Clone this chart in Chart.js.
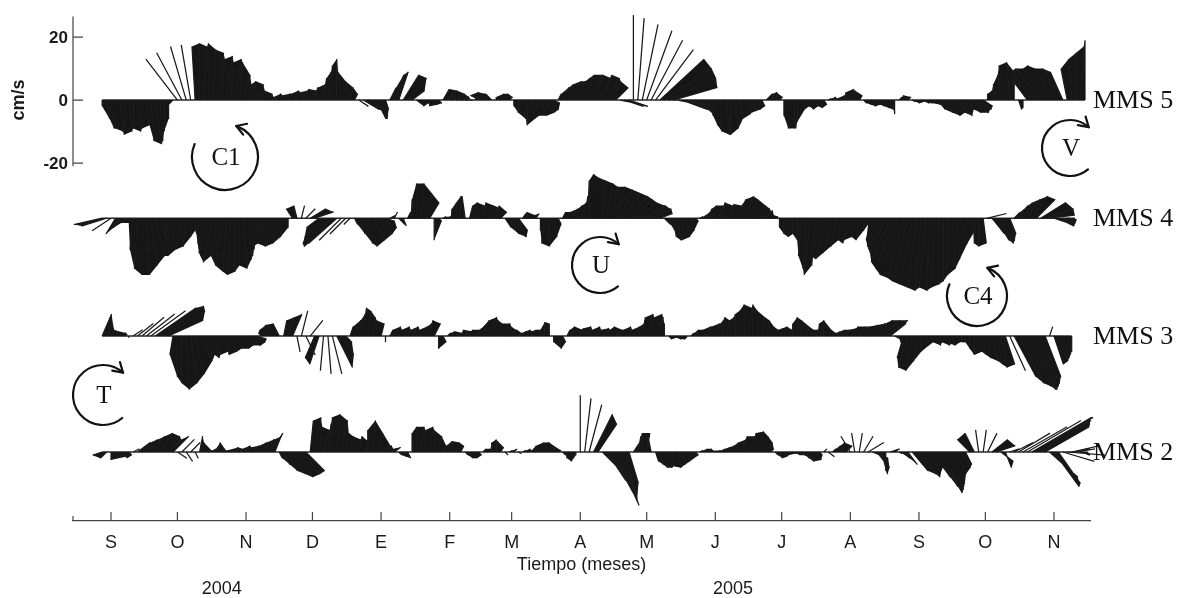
<!DOCTYPE html>
<html>
<head>
<meta charset="utf-8">
<script src="https://cdn.jsdelivr.net/npm/chart.js@4.4.1/dist/chart.umd.min.js"></script>
<style>
  html, body { margin: 0; padding: 0; background: #ffffff; }
  #wrap { width: 1178px; height: 598px; position: relative; }
</style>
</head>
<body>
<div id="wrap"><canvas id="c" width="1178" height="598"></canvas></div>
<script>
// Time axis: days counted from 15 Sep 2004; one tick per month (mid-month)
const monthDays   = [0, 30, 61, 91, 122, 153, 181, 212, 242, 273, 303, 334, 365, 395, 426];
const monthLabels = ['S', 'O', 'N', 'D', 'E', 'F', 'M', 'A', 'M', 'J', 'J', 'A', 'S', 'O', 'N'];
const yearLabels  = ['2004', '2005'];
const yearDays    = [50, 281];
const yTicks      = [20, 0, -20];

// Current vectors (cm/s), one sample every 2 days starting at day -4
const SAMPLE_START = -4;
const SAMPLE_STEP  = 2;

const U_MMS5 = [
  0,1,1,0,1,0,1,0,1,0,
  1,1,2,1,0,0,-2,-10,-8,-5,
  -3,-1,0,1,0,1,2,1,2,1,
  2,1,2,1,1,2,1,2,1,2,
  1,2,1,2,1,2,1,2,1,2,
  1,1,0,0,-1,0,1,1,3,5,
  6,5,3,2,1,2,3,3,5,6,
  4,2,1,1,0,1,1,2,3,4,
  4,3,1,1,0,-1,-4,-3,-2,0,
  1,1,1,0,0,1,0,1,1,2,
  3,3,2,1,2,2,3,3,3,3,
  4,3,4,3,4,3,4,5,6,6,
  0,2,5,8,10,12,14,15,15,14,
  10,8,9,6,4,2,1,1,0,0,
  0,1,0,1,1,2,1,1,1,1,
  2,2,1,1,0,0,1,0,1,1,
  1,1,1,1,1,1,0,1,0,1,
  0,1,1,1,1,1,1,1,1,0,
  1,0,1,1,1,1,1,1,2,2,
  3,4,4,5,4,5,6,5,4,3,
  0,0,-1,-1,-2,-1,0,1,0,-6,
  -7,-8,-8,-7,-7,-6,-5,-4,-2,-1,
  0,1,0
];
const V_MMS5 = [
  -2,-6,-9,-9,-10,-11,-10,-9,-10,-9,
  -8,-13,-14,-13,-10,-6,-2,13,15,17,
  17.5,17,18,17,18,16,15,13,14,12,
  13,12,8,5,6,5,3,2,1,2,
  1.5,2,2,3,2.5,3,3.5,3,4,5,
  7,9,11,13,9,6,4,2,-2,-3,
  -4,-5,-6,-6,-3,4,8,9,8,7,
  3,-1.5,-2,-1,-2,-1.5,-1,3.5,3,2,
  1,0.5,0,0,0,0.5,1.5,2.5,2,1,
  2,2,1,-2,-4,-6,-8,-6,-5,-5,
  -4,-3,-1,2,4,5,6,6,7,8,
  8,8,7,8,7,6,4,-1,-2,-2,
  27,26,24,22,19,16,13,10,7,4,
  -2,-3,-3,-3,-2,-2,-3,-4,-5,-8,
  -10,-11,-11,-9,-6,-4.5,-4,-3.5,-3,-2,
  2,2.5,2,1,-5,-9,-9,-7,-3,-2,
  -3,-2,-2.5,-1.5,0.5,1,0.5,1.5,2.5,3.5,
  3,1.5,-1,-1.5,-2,-1.5,-2,-2.5,-3,-4.5,
  1,1.5,1,-0.5,-1,-0.5,-1,-1,-1.5,-3,
  -4,-5,-4,-5,-3,-4,-4,-3,-3,-2,
  2,3,5,8,11,12,9,-3,-2.5,8,
  9,9,10,10,11,10,10,9,10,13,
  15,17,19
];

const U_MMS4 = [
  -9,-8,-6,-3,-2,-1,0,-1,-1,0,
  1,2,3,3,1,-2,-3,-3,-2,-1,
  0,0,-1,-2,-3,-3,-2,-2,-1,-1,
  0,0,1,1,0,-1,-3,-4,-4,-3,
  -2,-1,0,-2,-1,1,3,5,6,-4,
  -6,-8,-9,-9,-7,-5,-2,1,2,3,
  3,4,5,5,3,2,1,2,1,1,
  0,0,1,2,3,0,1,1,1,0,
  0,0,-1,1,1,2,1,2,2,1,
  2,2,3,4,3,1,0,1,1,0,
  -1,0,1,1,1,1,2,2,2,1,
  0,0,0,1,2,2,3,4,5,6,
  6,6,7,6,6,5,4,2,2,1,
  1,0,1,1,1,1,2,1,1,2,
  1,2,1,2,2,3,3,4,4,3,
  2,1,1,0,0,0,0,0,-1,-1,
  -2,-1,-3,-4,-4,-3,-2,-1,-1,-2,
  -1,-1,0,0,-2,-3,-4,-5,-6,-6,
  -6,-5,-5,-4,-3,-2,-2,-1,-1,0,
  0,0,1,1,2,3,1,0,0,1,
  6,4,4,4,3,2,2,3,3,4,
  5,6,8,9,8,6,5,4,3,1
];
const V_MMS4 = [
  -2,-2.5,-4,-5,-3,-1.5,-1.5,-10,-16,-18,
  -18,-15,-12,-10,-9,-11,-12,-12,-10,-9,
  -6,-4,-5,-8,-11,-14,-12,-15,-17,-18,
  -17,-15,-16,-13,-12,-10,-10,-9,-8,-9,
  -8,-6,-3,3,4,4,3,3,2,-3,
  -6,-8,-9,-8,-7,-5,-2,-2,-5,-8,
  -9,-7,-5,-3,-1,1,2,-2,-2.5,2,
  6,11,11,8,5,-7,-1,0.5,0.5,3,
  5,7,7,4,5,4,5,4,3.5,4,
  2,-3,-5,-6,-4,1.5,2,1,1.5,-4,
  -8,-9,-6,-2,2,2,3,4,5,7,
  12,14,13,12,11,10,10,9,8,7,
  6,5,4,4,3,3,1.5,-2,-4,-6,
  -7,-7,-6,-4,-1,0.5,2,3,4,4,
  5,4,4.5,4,6,7,6,4,3,2,
  2.5,1,0.5,-3,-5,-6,-5,-7,-12,-16,
  -18,-15,-10,-12,-13,-11,-9,-7,-8,-7,
  -6,-7,-4,-2,-7,-9,-10,-11,-14,-16,
  -18,-19,-20,-21,-22,-23,-22,-23,-22,-21,
  -20,-18,-16,-13,-8,-4,-3,-8,-9,-8,
  1.5,-5,-7,-8,-7,-5,2,4,5,6,
  7,6,5,3,1,-2,-2.5,-1.5,-0.5,0
];

const U_MMS3 = [
  3,2,1,1,2,1,0,3,5,7,
  9,11,13,14,13,11,-1,0,0,1,
  2,3,4,3,2,2,1,2,1,2,
  2,3,3,4,4,3,-1,-2,-2,-3,
  -2,1,2,3,1,2,3,4,-3,-3,
  -1,1,3,5,4,2,1,2,2,1,
  1,1,0,1,0,1,2,1,2,1,
  2,1,2,2,1,2,0,1,1,1,
  2,1,2,1,2,1,2,3,2,2,
  3,2,2,1,1,1,1,0,0,0,
  0,0,0,1,1,1,1,2,1,2,
  1,2,1,2,1,1,2,1,2,1,
  2,2,1,2,1,2,1,0,1,1,
  1,1,0,1,1,1,2,1,2,1,
  1,1,1,0,0,0,1,0,0,1,
  1,1,1,1,1,1,0,0,0,1,
  1,1,0,0,1,1,1,1,1,2,
  1,2,2,3,4,5,6,7,5,2,
  1,-2,-3,-2,-1,0,1,1,2,1,
  2,1,1,1,1,0,0,0,1,1,
  1,2,2,2,3,5,7,8,9,9,
  8,7,6,5,1,3,3,2,1,0
];
const V_MMS3 = [
  7,4,2,1.5,1,0.5,-0.5,2,4,6,
  7,8,9,9.5,8,5,-6,-13,-15,-17,
  -15,-12,-8,-7,-6,-7,-6,-5,-6,-5,
  -4,-4,-3,-3,-2,-1,1,2,3,3.5,
  4,5,6,7,-5,8,-6,5,-7,-9,
  -11,-12,-12,-10,-6,-2,3,5,7,9,
  8,6,5,4,-2,2,3,2,3,2,
  3,2,3,4,5,4,-4,-2,1,1.5,
  1,2,1.5,2,2,2.5,5,6,5,4,
  4,3,2,2,1,1.5,2,1.5,2,2,
  4.5,4,-2,-4,-2,2,3,2,2.5,3,
  2,3,2,2.5,2,3,2,2,3,2,
  3,4,6,7,6,7,6,4,-1,-0.5,
  -1,-1,-0.5,1,2,2,3,3,4,4,
  6,5,6,7,8,10,9,10,8,6,
  5,3,2,2.5,3,2,4,6,5,3,
  2,2,4,5,2,1,1.5,2,2,2.5,
  3,3,3,3.5,4,5,5,5,4,-1,
  -3,-7,-10,-11,-8,-5,-3,-2,-3,-2,
  -3,-2.5,-3,-2,-2,-2,-4,-6,-5,-6,
  -7,-8,-9,-10,-9,-11,-13,-15,-16,-17,
  -17,-16,-15,-13,3,-9,-8,-7,-6,-5
];

const U_MMS2 = [
  -3,-2,0,1,2,1,1,2,4,5,
  6,4,3,4,5,4,5,3,4,2,
  3,1,1,0,1,1,1,1,0,1,
  1,1,2,1,2,3,4,5,4,2,
  1,2,3,4,5,6,6,1,2,1,
  2,1,0,1,2,1,1,2,1,2,
  0,1,2,3,2,1,2,1,1,1,
  0,0,1,0,1,0,1,1,1,0,
  1,1,1,1,1,1,1,1,0,0,
  1,1,1,1,1,1,1,0,0,1,
  1,0,0,1,1,0,0,0,0,2,
  4,6,6,5,6,7,7,6,4,3,
  2,1,0,1,-1,1,1,1,1,0,
  1,1,1,1,1,1,1,1,0,1,
  1,1,1,1,2,1,2,1,2,2,
  2,1,1,1,1,0,1,1,1,1,
  1,2,1,1,2,1,1,1,2,-3,
  -1,1,3,5,5,4,2,0,3,1,
  1,2,3,5,6,6,5,4,5,6,
  6,5,4,3,3,2,-4,-3,-1,1,
  3,5,6,4,2,3,6,10,14,17,
  19,18,16,14,9,8,7,10,12,9,
  6,3,1
];
const V_MMS2 = [
  -1,-2,-2.5,-2,-1.5,-2,-1,1,3,4,
  5,4,5,6,5,4,5,-2,4,-3,
  3,-2,5,3,0.5,1,3,1,0.5,1,
  1.5,1,2,1.5,2,3,4,5,6,5,
  -2,-4,-6,-7,-8,-7,-6,10,11,8,
  7,9,11,12,10,6,5,4,5,3,
  7,10,6,2,2,1,1.5,-1,-1.5,-2,
  6,8,8,7,8,7,5,2,3,3.5,
  3,2,-1,-2,-2,-1,1,1,3,4,
  1.5,-1,0.5,1,-0.5,0.5,1,0.5,2,3,
  3,3,2,0.5,-1,-2,-3,-1,18,17,
  15,12,9,-5,-9,-13,-16,-17,-15,-10,
  3,5,6,6,5,-3,-4,-5,-5,-4.5,
  -5,-4,-3,-2,-1,0.5,1,1,0.5,0.5,
  1,1.5,2,3,4,5,5,6,6.5,5,
  3,1,-1,-2,-1.5,-1,-0.5,-1,-1,-2,
  -3,-2.5,-1,1,-1.5,1,2,3,2,5,
  6,6,5,3,-2,-5,-7,-6,1,0.5,
  -0.5,-2,-4,-6,-7,-8,-6,-5,-8,-11,
  -13,-12,-10,-7,-5,-4,4,6,7,7,
  6,4,2,-3,-5,1,3,6,8,10,
  11,11,10,8,-8,-11,-10,-3,-1,2,
  1,-1,0
];

const stationNames = ['MMS 5', 'MMS 4', 'MMS 3', 'MMS 2'];
const stationBase  = [0, -37.5, -74.9, -111.7];
const stationU     = [U_MMS5, U_MMS4, U_MMS3, U_MMS2];
const stationV     = [V_MMS5, V_MMS4, V_MMS3, V_MMS2];

// Rotation markers: label, centre (px), radius, arc start/end (canvas degrees), counter-clockwise
const rotLabels  = ['C1', 'V', 'U', 'C4', 'T'];
const rotCentres = [[225, 157], [1070, 148], [600, 265], [977, 296], [103, 395]];
const rotRadius  = [33, 28, 28, 30, 30];
const rotArcs    = [[203, -70, true], [50, 312, false], [50, 312, false], [203, -70, true], [50, 312, false]];

const SANS  = "'Liberation Sans', Arial, sans-serif";
const SERIF = "'Liberation Serif', 'Times New Roman', serif";

// neighbouring sticks whose tips stay this close (px) are shaded as one dense band;
// sticks that swing apart (fans) stay as separate lines
const SHADE_DX_PX = 10;
const SHADE_DY_PX = 30;

// Stick segments: base at (day, station offset), tip displaced by (u, v).
// kx converts a u component in cm/s into days so sticks keep their true direction on screen.
function stickData(s, kx) {
  const base = stationBase[s], u = stationU[s], v = stationV[s];
  const pts = [];
  for (let i = 0; i < u.length; i++) {
    const d = SAMPLE_START + i * SAMPLE_STEP;
    pts.push({ x: d, y: base });
    pts.push({ x: d + u[i] * kx, y: base + v[i] });
    pts.push({ x: d, y: null });
  }
  return pts;
}
// Quadrilaterals between neighbouring sticks of a dense run (filled as closed shapes)
function shadeData(s, kx, pxPerCm, pxPerDay) {
  const base = stationBase[s], u = stationU[s], v = stationV[s];
  const pts = [];
  for (let i = 0; i + 1 < u.length; i++) {
    if (v[i] * v[i + 1] < 0) continue;
    const dxp = SAMPLE_STEP * pxPerDay + (u[i + 1] - u[i]) * pxPerCm;
    const dyp = (v[i + 1] - v[i]) * pxPerCm;
    if (Math.abs(dxp) > SHADE_DX_PX || Math.abs(dyp) > SHADE_DY_PX) continue;
    const d0 = SAMPLE_START + i * SAMPLE_STEP, d1 = d0 + SAMPLE_STEP;
    pts.push({ x: d0, y: base },
             { x: d0 + u[i] * kx, y: base + v[i] },
             { x: d1 + u[i + 1] * kx, y: base + v[i + 1] },
             { x: d1, y: base },
             { x: d0, y: null });
  }
  return pts;
}
function baseData(s) {
  const n = stationU[s].length;
  return [{ x: SAMPLE_START, y: stationBase[s] },
          { x: SAMPLE_START + (n - 1) * SAMPLE_STEP, y: stationBase[s] }];
}

const datasets = [];
for (let s = 0; s < stationNames.length; s++) {
  datasets.push({
    label: stationNames[s], data: stickData(s, 0.7), showLine: true, spanGaps: false,
    borderColor: '#1a1a1a', borderWidth: 1.25, pointRadius: 0, clip: false, borderCapStyle: 'butt'
  });
  datasets.push({
    label: stationNames[s] + ' banda', data: [], showLine: true, spanGaps: false,
    borderWidth: 0, borderColor: 'rgba(0,0,0,0)', pointRadius: 0, clip: false,
    fill: 'shape', backgroundColor: '#161616'
  });
  datasets.push({
    label: stationNames[s] + ' eje', data: baseData(s), showLine: true,
    borderColor: '#2a2a2a', borderWidth: 1.6, pointRadius: 0, clip: false
  });
}

function arrowCircle(ctx, cx, cy, r, a0, a1, ccw) {
  const t0 = a0 * Math.PI / 180, t1 = a1 * Math.PI / 180;
  ctx.beginPath();
  ctx.arc(cx, cy, r, t0, t1, ccw);
  ctx.stroke();
  const ex = cx + r * Math.cos(t1), ey = cy + r * Math.sin(t1);
  const dx = ccw ? Math.sin(t1) : -Math.sin(t1);
  const dy = ccw ? -Math.cos(t1) : Math.cos(t1);
  const L = 11, A = 0.55;
  ctx.beginPath();
  for (const sg of [-1, 1]) {
    const bx = -dx, by = -dy;
    const rx = bx * Math.cos(sg * A) - by * Math.sin(sg * A);
    const ry = bx * Math.sin(sg * A) + by * Math.cos(sg * A);
    ctx.moveTo(ex, ey);
    ctx.lineTo(ex + rx * L, ey + ry * L);
  }
  ctx.stroke();
}

const decor = {
  id: 'decor',
  afterDraw(chart) {
    const { ctx, scales: { x, y } } = chart;
    ctx.save();
    // left axis, only over the top record
    ctx.strokeStyle = '#444444';
    ctx.lineWidth = 1.2;
    ctx.beginPath();
    ctx.moveTo(x.left, y.getPixelForValue(26.5));
    ctx.lineTo(x.left, y.getPixelForValue(-21));
    yTicks.forEach(v => {
      const py = y.getPixelForValue(v);
      ctx.moveTo(x.left, py);
      ctx.lineTo(x.left + 10, py);
    });
    // inward month ticks on the time axis
    monthDays.forEach(d => {
      const px = x.getPixelForValue(d);
      ctx.moveTo(px, y.bottom);
      ctx.lineTo(px, y.bottom - 9);
    });
    ctx.moveTo(x.left, y.bottom);
    ctx.lineTo(x.left, y.bottom - 5);
    ctx.stroke();

    ctx.fillStyle = '#1a1a1a';
    // value labels of the left axis
    ctx.font = 'bold 17px ' + SANS;
    ctx.textAlign = 'right';
    ctx.textBaseline = 'middle';
    yTicks.forEach(v => ctx.fillText(String(v), x.left - 5, y.getPixelForValue(v) + 1));

    // axis titles
    ctx.textAlign = 'center';
    ctx.font = 'bold 18px ' + SANS;
    ctx.save();
    ctx.translate(19, y.getPixelForValue(0));
    ctx.rotate(-Math.PI / 2);
    ctx.fillText('cm/s', 0, 0);
    ctx.restore();
    ctx.font = '18px ' + SANS;
    ctx.fillText('Tiempo (meses)', (x.left + x.right) / 2, 565);
    yearLabels.forEach((t, i) => ctx.fillText(t, x.getPixelForValue(yearDays[i]), 589));

    // station names
    ctx.font = '26px ' + SERIF;
    ctx.textAlign = 'left';
    ctx.fillStyle = '#111111';
    stationNames.forEach((n, i) => ctx.fillText(n, 1093, y.getPixelForValue(stationBase[i]) + 1));

    // rotation markers
    ctx.font = '25px ' + SERIF;
    ctx.strokeStyle = '#111111';
    ctx.lineWidth = 2.2;
    ctx.lineCap = 'round';
    rotLabels.forEach((lab, i) => {
      const [cx, cy] = rotCentres[i];
      const [a0, a1, ccw] = rotArcs[i];
      arrowCircle(ctx, cx, cy, rotRadius[i], a0, a1, ccw);
      ctx.textAlign = 'center';
      ctx.fillText(lab, cx + 1, cy + 1);
    });
    ctx.restore();
  }
};

const chart = new Chart(document.getElementById('c'), {
  type: 'scatter',
  data: { datasets },
  options: {
    responsive: false,
    animation: false,
    events: [],
    layout: { padding: { left: 73, right: 88, top: 15, bottom: 0 } },
    plugins: { legend: { display: false }, tooltip: { enabled: false } },
    scales: {
      x: {
        type: 'linear', min: -17.17, max: 442.27,
        afterFit: s => { s.height = 77; },
        afterBuildTicks: s => { s.ticks = monthDays.map(v => ({ value: v })); },
        ticks: {
          autoSkip: false, maxRotation: 0, padding: 11, color: '#1a1a1a',
          font: { family: SANS, size: 18 },
          callback: (v) => { const i = monthDays.indexOf(v); return i >= 0 ? monthLabels[i] : ''; }
        },
        grid: { display: false, drawTicks: false },
        border: { display: true, color: '#444444', width: 1.2 }
      },
      y: {
        type: 'linear', min: -133.6, max: 27,
        display: false
      }
    }
  },
  plugins: [decor]
});

// match horizontal stick components to the vertical cm/s scale
const xs = chart.scales.x, ys = chart.scales.y;
const pxPerCm = ys.getPixelForValue(0) - ys.getPixelForValue(1);
const pxPerDay = xs.getPixelForValue(1) - xs.getPixelForValue(0);
const kx = pxPerCm / pxPerDay;
for (let s = 0; s < stationNames.length; s++) {
  chart.data.datasets[3 * s].data = stickData(s, kx);
  chart.data.datasets[3 * s + 1].data = shadeData(s, kx, pxPerCm, pxPerDay);
}
chart.update('none');
</script>
</body>
</html>
